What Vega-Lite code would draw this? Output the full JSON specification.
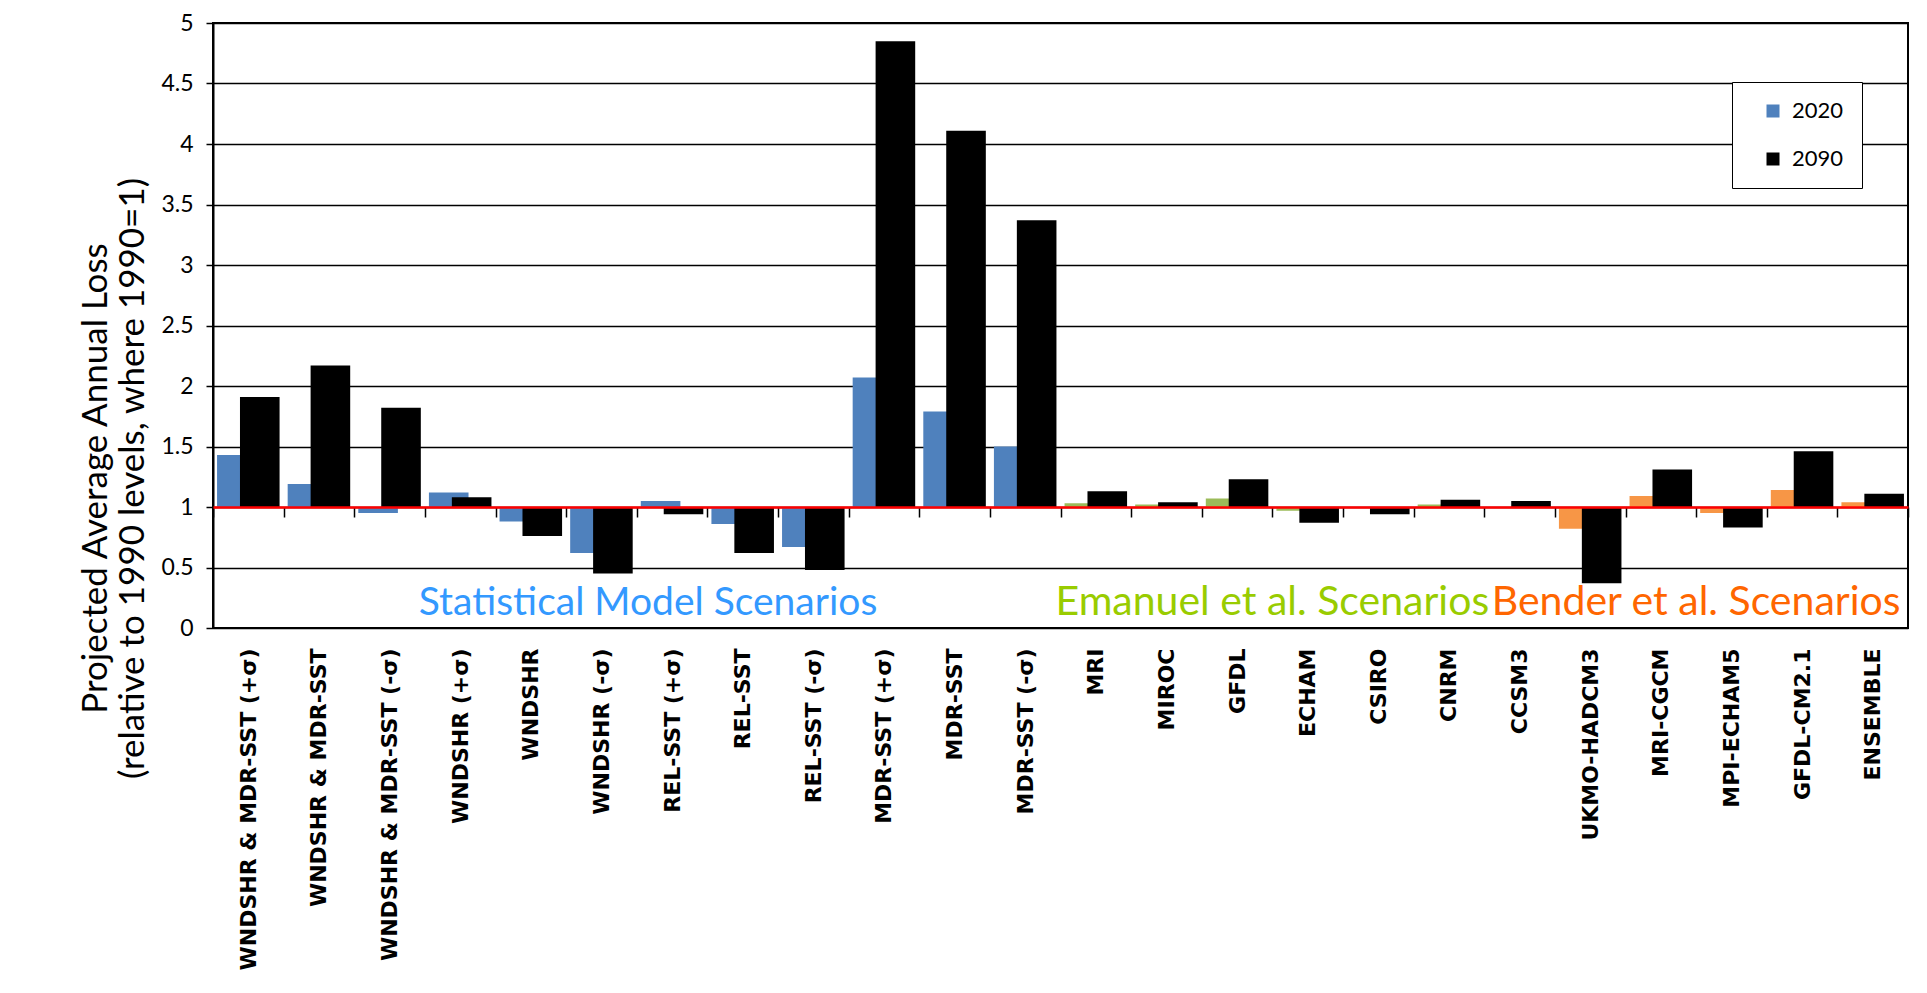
{
  "$schema": "https://vega.github.io/schema/vega-lite/v6.json",
  "width": 1695,
  "height": 605,
  "autosize": {"type": "none"},
  "padding": {"left": 213, "top": 23, "right": 19, "bottom": 365},
  "background": "white",
  "config": {
    "view": {"stroke": "black", "strokeWidth": 2},
    "font": "Lato"
  },
  "data": {
    "values": [
      {"scenario": "WNDSHR & MDR-SST (+σ)", "year": "2020", "series": "2020", "value": 1.43},
      {"scenario": "WNDSHR & MDR-SST", "year": "2020", "series": "2020", "value": 1.19},
      {"scenario": "WNDSHR & MDR-SST (-σ)", "year": "2020", "series": "2020", "value": 0.95},
      {"scenario": "WNDSHR (+σ)", "year": "2020", "series": "2020", "value": 1.12},
      {"scenario": "WNDSHR", "year": "2020", "series": "2020", "value": 0.88},
      {"scenario": "WNDSHR (-σ)", "year": "2020", "series": "2020", "value": 0.62},
      {"scenario": "REL-SST (+σ)", "year": "2020", "series": "2020", "value": 1.05},
      {"scenario": "REL-SST", "year": "2020", "series": "2020", "value": 0.86},
      {"scenario": "REL-SST (-σ)", "year": "2020", "series": "2020", "value": 0.67},
      {"scenario": "MDR-SST (+σ)", "year": "2020", "series": "2020", "value": 2.07},
      {"scenario": "MDR-SST", "year": "2020", "series": "2020", "value": 1.79},
      {"scenario": "MDR-SST (-σ)", "year": "2020", "series": "2020", "value": 1.5},
      {"scenario": "MRI", "year": "2020", "series": "2020 Emanuel", "value": 1.03},
      {"scenario": "MIROC", "year": "2020", "series": "2020 Emanuel", "value": 1.02},
      {"scenario": "GFDL", "year": "2020", "series": "2020 Emanuel", "value": 1.07},
      {"scenario": "ECHAM", "year": "2020", "series": "2020 Emanuel", "value": 0.97},
      {"scenario": "CSIRO", "year": "2020", "series": "2020 Emanuel", "value": 0.995},
      {"scenario": "CNRM", "year": "2020", "series": "2020 Emanuel", "value": 1.02},
      {"scenario": "CCSM3", "year": "2020", "series": "2020 Emanuel", "value": 1.0},
      {"scenario": "UKMO-HADCM3", "year": "2020", "series": "2020 Bender", "value": 0.82},
      {"scenario": "MRI-CGCM", "year": "2020", "series": "2020 Bender", "value": 1.09},
      {"scenario": "MPI-ECHAM5", "year": "2020", "series": "2020 Bender", "value": 0.95},
      {"scenario": "GFDL-CM2.1", "year": "2020", "series": "2020 Bender", "value": 1.14},
      {"scenario": "ENSEMBLE", "year": "2020", "series": "2020 Bender", "value": 1.04},
      {"scenario": "WNDSHR & MDR-SST (+σ)", "year": "2090", "series": "2090", "value": 1.91},
      {"scenario": "WNDSHR & MDR-SST", "year": "2090", "series": "2090", "value": 2.17},
      {"scenario": "WNDSHR & MDR-SST (-σ)", "year": "2090", "series": "2090", "value": 1.82},
      {"scenario": "WNDSHR (+σ)", "year": "2090", "series": "2090", "value": 1.08},
      {"scenario": "WNDSHR", "year": "2090", "series": "2090", "value": 0.76},
      {"scenario": "WNDSHR (-σ)", "year": "2090", "series": "2090", "value": 0.45},
      {"scenario": "REL-SST (+σ)", "year": "2090", "series": "2090", "value": 0.94},
      {"scenario": "REL-SST", "year": "2090", "series": "2090", "value": 0.62},
      {"scenario": "REL-SST (-σ)", "year": "2090", "series": "2090", "value": 0.48},
      {"scenario": "MDR-SST (+σ)", "year": "2090", "series": "2090", "value": 4.85},
      {"scenario": "MDR-SST", "year": "2090", "series": "2090", "value": 4.11},
      {"scenario": "MDR-SST (-σ)", "year": "2090", "series": "2090", "value": 3.37},
      {"scenario": "MRI", "year": "2090", "series": "2090", "value": 1.13},
      {"scenario": "MIROC", "year": "2090", "series": "2090", "value": 1.04},
      {"scenario": "GFDL", "year": "2090", "series": "2090", "value": 1.23},
      {"scenario": "ECHAM", "year": "2090", "series": "2090", "value": 0.87},
      {"scenario": "CSIRO", "year": "2090", "series": "2090", "value": 0.94},
      {"scenario": "CNRM", "year": "2090", "series": "2090", "value": 1.06},
      {"scenario": "CCSM3", "year": "2090", "series": "2090", "value": 1.05},
      {"scenario": "UKMO-HADCM3", "year": "2090", "series": "2090", "value": 0.37},
      {"scenario": "MRI-CGCM", "year": "2090", "series": "2090", "value": 1.31},
      {"scenario": "MPI-ECHAM5", "year": "2090", "series": "2090", "value": 0.83},
      {"scenario": "GFDL-CM2.1", "year": "2090", "series": "2090", "value": 1.46},
      {"scenario": "ENSEMBLE", "year": "2090", "series": "2090", "value": 1.11}
    ]
  },
  "layer": [
    {
      "mark": {"type": "bar", "width": 39.6},
      "encoding": {
        "x": {
          "field": "scenario",
          "type": "nominal",
          "sort": null,
          "scale": {"paddingInner": 0, "paddingOuter": 0},
          "axis": {
            "title": null,
            "orient": "bottom",
            "offset": -121,
            "zindex": 1,
            "domainColor": "#FF0000",
            "domainWidth": 2.5,
            "tickBand": "extent",
            "tickSize": 10,
            "tickColor": "black",
            "tickWidth": 1.5,
            "labelAngle": -90,
            "labelFont": "DejaVu Sans",
            "labelFontWeight": "bold",
            "labelFontSize": 22,
            "labelColor": "black",
            "labelPadding": 131,
            "labelLimit": 0,
            "labelOverlap": false,
            "grid": false
          }
        },
        "xOffset": {
          "field": "year",
          "type": "nominal",
          "sort": ["2020", "2090"],
          "scale": {"paddingInner": 0, "paddingOuter": 0.54}
        },
        "y": {
          "field": "value",
          "type": "quantitative",
          "scale": {"domain": [0, 5], "nice": false, "zero": true},
          "axis": {
            "title": ["Projected Average Annual Loss", "(relative to 1990 levels, where 1990=1)"],
            "values": [0, 0.5, 1, 1.5, 2, 2.5, 3, 3.5, 4, 4.5, 5],
            "format": "~g",
            "grid": true,
            "gridColor": "black",
            "gridWidth": 1.5,
            "gridOpacity": 1,
            "domainColor": "black",
            "domainWidth": 2,
            "tickColor": "black",
            "tickSize": 7,
            "tickWidth": 1.5,
            "labelFont": "Lato",
            "labelFontSize": 23,
            "labelColor": "black",
            "labelPadding": 13,
            "titleFont": "Lato",
            "titleFontSize": 35,
            "titleFontWeight": "normal",
            "titleColor": "black",
            "titleLineHeight": 37,
            "titleAngle": -90,
            "titleAlign": "center",
            "titleBaseline": "bottom",
            "titleX": -100,
            "titleY": 455
          }
        },
        "y2": {"datum": 1},
        "color": {
          "field": "series",
          "type": "nominal",
          "scale": {
            "domain": ["2020", "2090", "2020 Emanuel", "2020 Bender"],
            "range": ["#4F81BD", "#000000", "#9BBB59", "#F79646"]
          },
          "legend": {
            "orient": "none",
            "legendX": 1519,
            "legendY": 59,
            "title": null,
            "values": ["2020", "2090"],
            "strokeColor": "black",
            "fillColor": "white",
            "padding": 18,
            "symbolType": "square",
            "symbolSize": 169,
            "symbolOffset": 12,
            "symbolStrokeWidth": 0,
            "labelFont": "Lato",
            "labelFontSize": 22,
            "labelColor": "black",
            "labelOffset": 8,
            "rowPadding": 26
          }
        }
      }
    },
    {
      "data": {"values": [{"label": "Statistical Model Scenarios"}]},
      "mark": {"type": "text", "color": "#3399FF", "font": "Lato", "fontSize": 39, "align": "center", "baseline": "alphabetic"},
      "encoding": {
        "x": {"datum": "REL-SST (+σ)", "bandPosition": 0.16},
        "y": {"datum": 0.11},
        "text": {"field": "label"}
      }
    },
    {
      "data": {"values": [{"label": "Emanuel et al. Scenarios"}]},
      "mark": {"type": "text", "color": "#99CC00", "font": "Lato", "fontSize": 41, "align": "center", "baseline": "alphabetic"},
      "encoding": {
        "x": {"datum": "ECHAM", "bandPosition": 0},
        "y": {"datum": 0.11},
        "text": {"field": "label"}
      }
    },
    {
      "data": {"values": [{"label": "Bender et al. Scenarios"}]},
      "mark": {"type": "text", "color": "#FF6600", "font": "Lato", "fontSize": 41, "align": "center", "baseline": "alphabetic"},
      "encoding": {
        "x": {"datum": "MPI-ECHAM5", "bandPosition": 0},
        "y": {"datum": 0.11},
        "text": {"field": "label"}
      }
    }
  ]
}
